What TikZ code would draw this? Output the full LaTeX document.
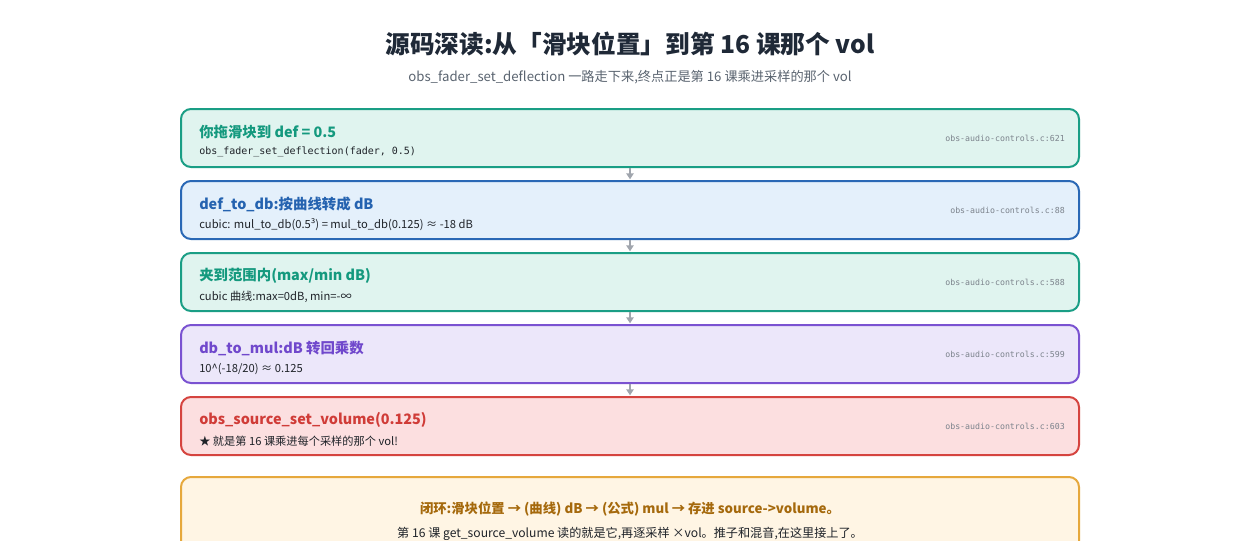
\documentclass[tikz,border=0pt]{standalone}
\usepackage{fontspec}
\setmainfont{Noto Sans CJK SC}
\newfontfamily\monof{DejaVu Sans Mono}
\usetikzlibrary{calc,arrows.meta}
\definecolor{tealB}{HTML}{1A9E85}
\definecolor{tealF}{HTML}{E0F4EF}
\definecolor{tealT}{HTML}{14997E}
\definecolor{blueB}{HTML}{2A68B5}
\definecolor{blueF}{HTML}{E4F0FB}
\definecolor{blueT}{HTML}{2563B0}
\definecolor{purB}{HTML}{7A52D1}
\definecolor{purF}{HTML}{ECE7FA}
\definecolor{purT}{HTML}{7048CC}
\definecolor{redB}{HTML}{D5443F}
\definecolor{redF}{HTML}{FCDFE0}
\definecolor{redT}{HTML}{D03C38}
\definecolor{orgB}{HTML}{E6A83C}
\definecolor{orgF}{HTML}{FFF5E4}
\definecolor{orgT}{HTML}{A5690C}
\definecolor{titleC}{HTML}{1F2937}
\definecolor{subC}{HTML}{5A6470}
\definecolor{refC}{HTML}{7C838C}
\definecolor{arrC}{HTML}{A0A5AD}
\definecolor{txtC}{HTML}{1F2329}
\tikzset{
  stepbox/.style={draw, line width=1.5pt, rounded corners=7.5pt, minimum width=673.5pt, minimum height=43.5pt, inner sep=0pt},
  btitle/.style={anchor=west, inner sep=0pt, font=\fontsize{10.8}{13}\selectfont\bfseries},
  bsub/.style={anchor=west, inner sep=0pt, text=txtC, font=\fontsize{8.4}{10}\selectfont},
  bref/.style={anchor=east, inner sep=0pt, text=refC, font=\monof\fontsize{6.2}{8}\selectfont},
  flow/.style={draw=arrC, line width=1.6pt, -{Triangle[length=4.5pt,width=5.5pt]}, shorten >=0.5pt}
}
\begin{document}
\begin{tikzpicture}[x=0.75pt,y=-0.75pt]
\useasboundingbox[fill=white] (0,0) rectangle (1260,540);
\node[text=titleC, font=\fontsize{18.5}{22}\selectfont\bfseries] (title) at (630,44) {源码深读:从「滑块位置」到第 16 课那个 vol};
\node[text=subC, font=\fontsize{9.9}{12}\selectfont] (subtitle) at (630,77) {obs\_fader\_set\_deflection 一路走下来,终点正是第 16 课乘进采样的那个 vol};

\node[stepbox, draw=tealB, fill=tealF] (b1) at (630,138) {};
\node[stepbox, draw=blueB, fill=blueF] (b2) at (630,210) {};
\node[stepbox, draw=tealB, fill=tealF] (b3) at (630,282) {};
\node[stepbox, draw=purB, fill=purF] (b4) at (630,354) {};
\node[stepbox, draw=redB, fill=redF] (b5) at (630,426) {};
\node[stepbox, draw=orgB, fill=orgF, minimum height=84pt] (b6) at (630,533) {};

\node[btitle, text=tealT] (t1) at ($(b1.north west)+(19,24)$) {你拖滑块到 def = 0.5};
\node[bsub, font=\monof\fontsize{7.5}{10}\selectfont] (s1) at ($(b1.north west)+(19,44)$) {obs\_fader\_set\_deflection(fader, 0.5)};
\node[bref] (r1) at ($(b1.east)+(-15,0)$) {obs-audio-controls.c:621};

\node[btitle, text=blueT] (t2) at ($(b2.north west)+(19,24)$) {def\_to\_db:按曲线转成 dB};
\node[bsub] (s2) at ($(b2.north west)+(19,45)$) {cubic: mul\_to\_db(0.5³) = mul\_to\_db(0.125) ≈ -18 dB};
\node[bref] (r2) at ($(b2.east)+(-15,0)$) {obs-audio-controls.c:88};

\node[btitle, text=tealT] (t3) at ($(b3.north west)+(19,24)$) {夹到范围内(max/min dB)};
\node[bsub] (s3) at ($(b3.north west)+(19,45)$) {cubic 曲线:max=0dB, min=-∞};
\node[bref] (r3) at ($(b3.east)+(-15,0)$) {obs-audio-controls.c:588};

\node[btitle, text=purT] (t4) at ($(b4.north west)+(19,24)$) {db\_to\_mul:dB 转回乘数};
\node[bsub] (s4) at ($(b4.north west)+(19,45)$) {10\^{}(-18/20) ≈ 0.125};
\node[bref] (r4) at ($(b4.east)+(-15,0)$) {obs-audio-controls.c:599};

\node[btitle, text=redT] (t5) at ($(b5.north west)+(19,24)$) {obs\_source\_set\_volume(0.125)};
\node[bsub] (s5) at ($(b5.north west)+(19,45)$) {★ 就是第 16 课乘进每个采样的那个 vol!};
\node[bref] (r5) at ($(b5.east)+(-15,0)$) {obs-audio-controls.c:603};

\node[inner sep=0pt, text=orgT, font=\fontsize{10}{12}\selectfont\bfseries] (t6) at (630,509) {闭环:滑块位置 → (曲线) dB → (公式) mul → 存进 source->volume。};
\node[inner sep=0pt, text=txtC, font=\fontsize{9.1}{12}\selectfont] (s6) at (630,534) {第 16 课 get\_source\_volume 读的就是它,再逐采样 ×vol。推子和混音,在这里接上了。};

\draw[flow] (b1.south) -- (b2.north);
\draw[flow] (b2.south) -- (b3.north);
\draw[flow] (b3.south) -- (b4.north);
\draw[flow] (b4.south) -- (b5.north);
\end{tikzpicture}
\end{document}
